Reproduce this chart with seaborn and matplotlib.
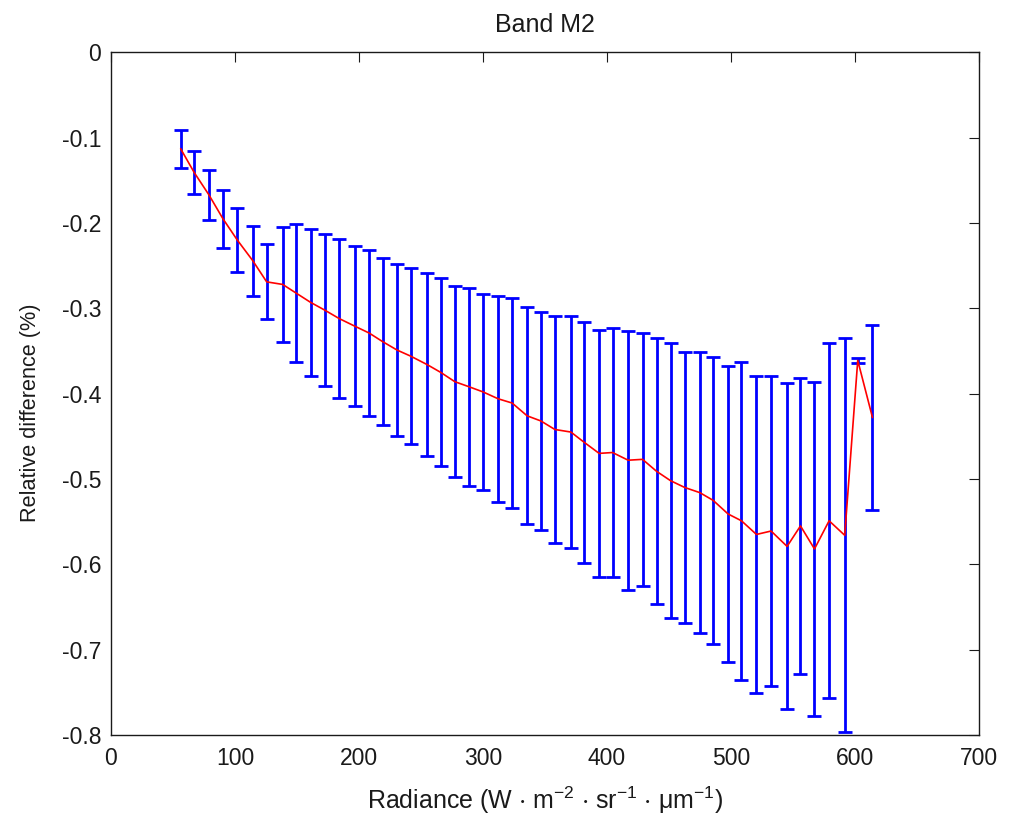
import matplotlib
matplotlib.use('Agg')
import pandas as pd
import seaborn as sns
import matplotlib.pyplot as plt
from matplotlib import font_manager

# radiance bin centres (W m-2 sr-1 um-1)
RADIANCE = [56.2, 67.2, 79.0, 90.3, 101.9, 114.3, 125.6, 138.5, 149.2, 161.0,
            172.3, 184.1, 196.8, 208.3, 219.1, 230.9, 241.7, 255.1, 265.9, 277.4,
            289.0, 300.2, 312.3, 323.6, 335.7, 346.8, 358.1, 371.0, 381.7, 393.8,
            404.6, 417.2, 428.8, 440.1, 451.4, 462.9, 475.0, 485.7, 497.8, 508.6,
            520.7, 532.5, 545.4, 556.2, 567.5, 579.3, 591.9, 602.4, 614.3]

# mean relative difference (%)
REL_DIFF = [-0.113, -0.141, -0.167, -0.195, -0.220, -0.244, -0.269, -0.272, -0.282, -0.293,
            -0.302, -0.312, -0.321, -0.329, -0.339, -0.349, -0.356, -0.366, -0.375, -0.386,
            -0.392, -0.398, -0.406, -0.411, -0.426, -0.432, -0.442, -0.445, -0.457, -0.470,
            -0.469, -0.478, -0.477, -0.491, -0.502, -0.510, -0.516, -0.525, -0.541, -0.549,
            -0.565, -0.561, -0.579, -0.555, -0.582, -0.549, -0.566, -0.361, -0.428]

# standard deviation (half length of the error bar)
STD_DIFF = [0.022, 0.025, 0.029, 0.034, 0.037, 0.041, 0.044, 0.067, 0.081, 0.086,
            0.089, 0.093, 0.094, 0.097, 0.098, 0.101, 0.103, 0.107, 0.110, 0.112,
            0.116, 0.115, 0.121, 0.123, 0.127, 0.128, 0.133, 0.136, 0.141, 0.145,
            0.146, 0.152, 0.148, 0.156, 0.161, 0.159, 0.165, 0.168, 0.173, 0.186,
            0.186, 0.182, 0.191, 0.173, 0.196, 0.208, 0.231, 0.003, 0.108]

X_TICKS = [0, 100, 200, 300, 400, 500, 600, 700]
Y_TICKS = [0, -0.1, -0.2, -0.3, -0.4, -0.5, -0.6, -0.7, -0.8]
Y_TICK_LABELS = ['0', '-0.1', '-0.2', '-0.3', '-0.4', '-0.5', '-0.6', '-0.7', '-0.8']

installed = {f.name for f in font_manager.fontManager.ttflist}
FONT = 'Liberation Sans' if 'Liberation Sans' in installed else 'DejaVu Sans'

sns.set_theme(style='white')
plt.rcParams['font.family'] = [FONT, 'DejaVu Sans']
plt.rcParams['axes.unicode_minus'] = False
plt.rcParams['mathtext.default'] = 'regular'

DARK = '#1a1a1a'

fig = plt.figure(figsize=(10.21, 8.19), dpi=100)
ax = fig.add_axes([0.1087, 0.1026, 0.8499, 0.8335])

df = pd.DataFrame({'radiance': RADIANCE, 'diff': REL_DIFF, 'std': STD_DIFF})

ax.errorbar(df['radiance'], df['diff'], yerr=df['std'], fmt='none',
            ecolor='#0000ff', elinewidth=2, capsize=4.8, capthick=2, zorder=2)
sns.lineplot(data=df, x='radiance', y='diff', color='#ff0000', linewidth=1.2,
             estimator=None, sort=False, ax=ax, zorder=3)

ax.set_xlim(0, 700)
ax.set_ylim(-0.8, 0)
ax.set_xticks(X_TICKS)
ax.set_yticks(Y_TICKS)
ax.set_yticklabels(Y_TICK_LABELS)
ax.tick_params(direction='in', length=7, width=0.8, top=True, right=True,
               labelsize=16.5, color=DARK, labelcolor=DARK)
ax.tick_params(axis='x', pad=9)
ax.tick_params(axis='y', pad=7)
for sp in ax.spines.values():
    sp.set_linewidth(1.0)
    sp.set_color(DARK)

ax.set_title('Band M2', fontsize=18, color=DARK, pad=15)
ax.set_xlabel(r'Radiance (W $\cdot$ m$^{-2}$ $\cdot$ sr$^{-1}$ $\cdot$ $\mu$m$^{-1}$)',
              fontsize=18, color=DARK, labelpad=10)
ax.set_ylabel('Relative difference (%)', fontsize=15.6, color=DARK)
# matlab puts the y label a little below the axes centre
ax.yaxis.set_label_coords(-0.081, 0.472)

fig.savefig('out.png', dpi=100)
